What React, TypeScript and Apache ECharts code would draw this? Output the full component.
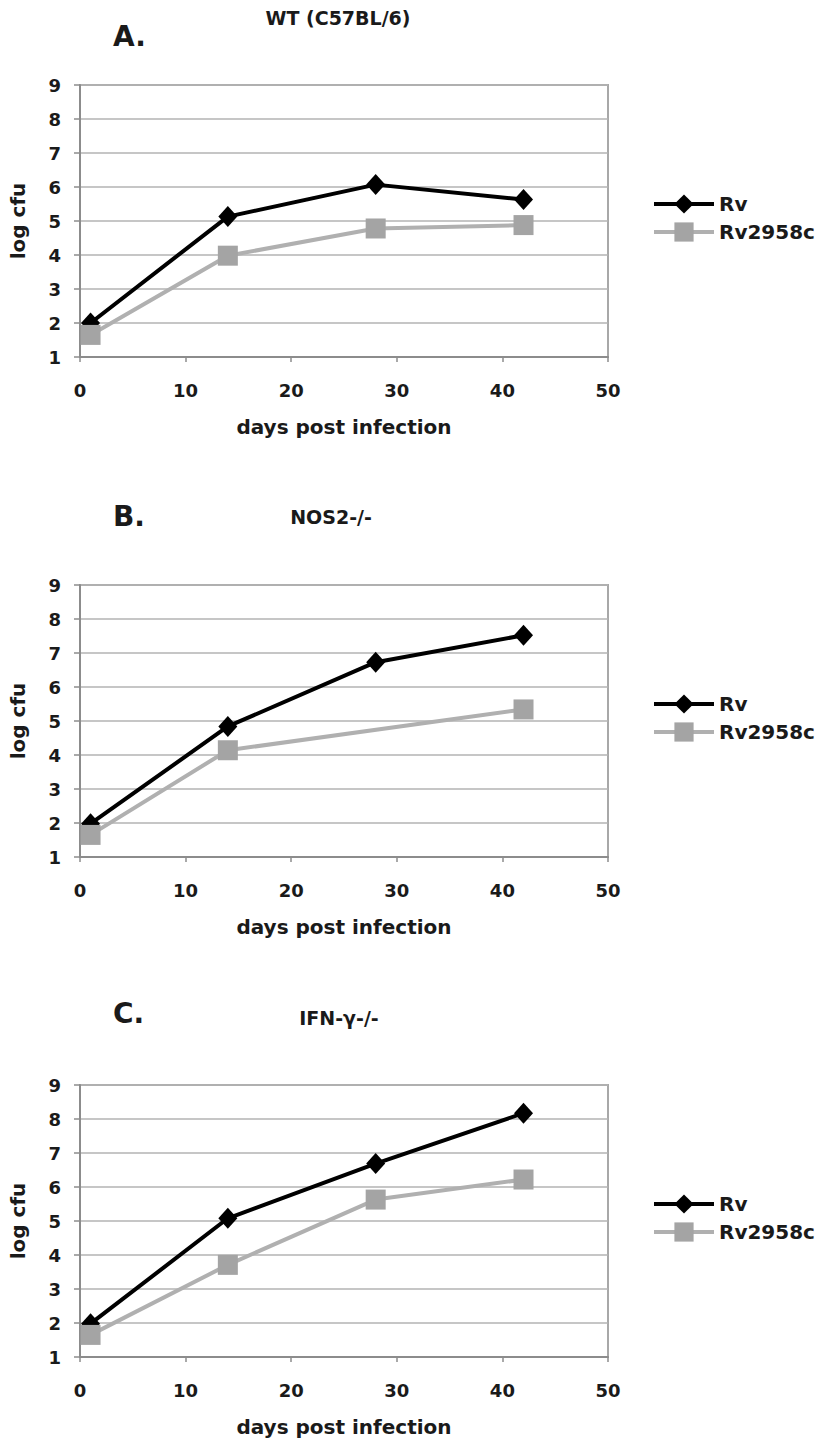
import React, { useEffect, useRef } from "react";
import * as echarts from "echarts";

// ---- data ----
const days = [1, 14, 28, 42];
const daysMutB = [1, 14, 42];
const rvA = [2.0, 5.13, 6.07, 5.63];
const mutA = [1.65, 3.98, 4.78, 4.88];
const rvB = [1.98, 4.84, 6.73, 7.52];
const mutB = [1.65, 4.14, 5.34];
const rvC = [1.98, 5.08, 6.69, 8.17];
const mutC = [1.65, 3.71, 5.63, 6.22];
const panelLetters = ["A.", "B.", "C."];
const panelTitles = ["WT (C57BL/6)", "NOS2-/-", "IFN-γ-/-"];
const seriesNames = ["Rv", "Rv2958c"];
const xAxisName = "days post infection";
const yAxisName = "log cfu";

const FONT = "DejaVu Sans";
const TXT = "#1a1a1a";

const panels = [
  { rv: rvA, rvDays: days, mut: mutA, mutDays: days },
  { rv: rvB, rvDays: days, mut: mutB, mutDays: daysMutB },
  { rv: rvC, rvDays: days, mut: mutC, mutDays: days },
];

const gridTops = [85, 585, 1085];
const gridH = 272;
const gridL = 75;
const gridW = 533;
const letterY = [36, 516, 1013];
const titleX = [338, 331, 339];
const titleY = [18, 517, 1018];

export default function App() {
  const ref = useRef<HTMLDivElement>(null);
  useEffect(() => {
    if (!ref.current) return;
    const chart = echarts.init(ref.current, undefined, { renderer: "svg" });
    const pair = (xs: number[], ys: number[]) => xs.map((x, i) => [x, ys[i]]);

    const grid = gridTops.map((t) => ({
      left: gridL,
      top: t,
      width: gridW,
      height: gridH,
      show: true,
      borderColor: "#a8a8a8",
      borderWidth: 2,
      backgroundColor: "transparent",
    }));

    const xAxis = gridTops.map((_, i) => ({
      type: "value",
      gridIndex: i,
      min: 0,
      max: 50,
      interval: 10,
      name: xAxisName,
      nameLocation: "middle",
      nameGap: 60,
      nameTextStyle: { fontFamily: FONT, fontWeight: "bold", fontSize: 20, color: TXT },
      axisLine: { show: true, lineStyle: { color: "#8c8c8c", width: 2 } },
      axisTick: { show: true, length: 5, lineStyle: { color: "#8c8c8c", width: 1.5 } },
      axisLabel: { margin: 24, fontFamily: FONT, fontWeight: "bold", fontSize: 18, color: TXT },
      splitLine: { show: false },
    }));

    const yAxis = gridTops.map((_, i) => ({
      type: "value",
      gridIndex: i,
      min: 1,
      max: 9,
      interval: 1,
      name: yAxisName,
      nameLocation: "middle",
      nameGap: 52,
      nameRotate: 90,
      nameTextStyle: { fontFamily: FONT, fontWeight: "bold", fontSize: 20, color: TXT },
      axisLine: { show: true, lineStyle: { color: "#8c8c8c", width: 2 } },
      axisTick: { show: true, length: 6, lineStyle: { color: "#8c8c8c", width: 1.5 } },
      axisLabel: { margin: 19, fontFamily: FONT, fontWeight: "bold", fontSize: 18, color: TXT },
      splitLine: { show: true, lineStyle: { color: "#b3b3b3", width: 1.5 } },
    }));

    const series: any[] = [];
    panels.forEach((p, i) => {
      series.push({
        type: "line",
        name: seriesNames[0],
        xAxisIndex: i,
        yAxisIndex: i,
        data: pair(p.rvDays, p.rv),
        symbol: "diamond",
        symbolSize: [19, 21],
        itemStyle: { color: "#000000" },
        lineStyle: { color: "#000000", width: 4 },
        z: 3,
      });
      series.push({
        type: "line",
        name: seriesNames[1],
        xAxisIndex: i,
        yAxisIndex: i,
        data: pair(p.mutDays, p.mut),
        symbol: "rect",
        symbolSize: 20,
        itemStyle: { color: "#a4a4a4" },
        lineStyle: { color: "#b0b0b0", width: 4 },
        z: 4,
      });
    });

    const legend = gridTops.map((t) => ({
      orient: "vertical",
      left: 652,
      top: t + 109,
      padding: 0,
      itemWidth: 60,
      itemHeight: 24,
      itemGap: 8,
      selectedMode: false,
      data: seriesNames,
      lineStyle: { width: 4 },
      textStyle: { fontFamily: FONT, fontWeight: "bold", fontSize: 20, color: TXT },
    }));

    const graphic: any[] = [];
    panelLetters.forEach((l, i) => {
      graphic.push({
        type: "text",
        x: 113,
        y: letterY[i],
        style: {
          text: l,
          font: `bold 28px "${FONT}"`,
          fill: TXT,
          align: "left",
          verticalAlign: "middle",
        },
      });
      graphic.push({
        type: "text",
        x: titleX[i],
        y: titleY[i],
        style: {
          text: panelTitles[i],
          font: `bold 19px "${FONT}"`,
          fill: TXT,
          align: "center",
          verticalAlign: "middle",
        },
      });
    });

    chart.setOption({
      animation: false,
      backgroundColor: "#ffffff",
      grid,
      xAxis,
      yAxis,
      series,
      legend,
      graphic,
    });
    return () => chart.dispose();
  }, []);

  return (
    <div
      ref={ref}
      style={{ position: "absolute", left: 0, top: 0, width: 817, height: 1443 }}
    />
  );
}
